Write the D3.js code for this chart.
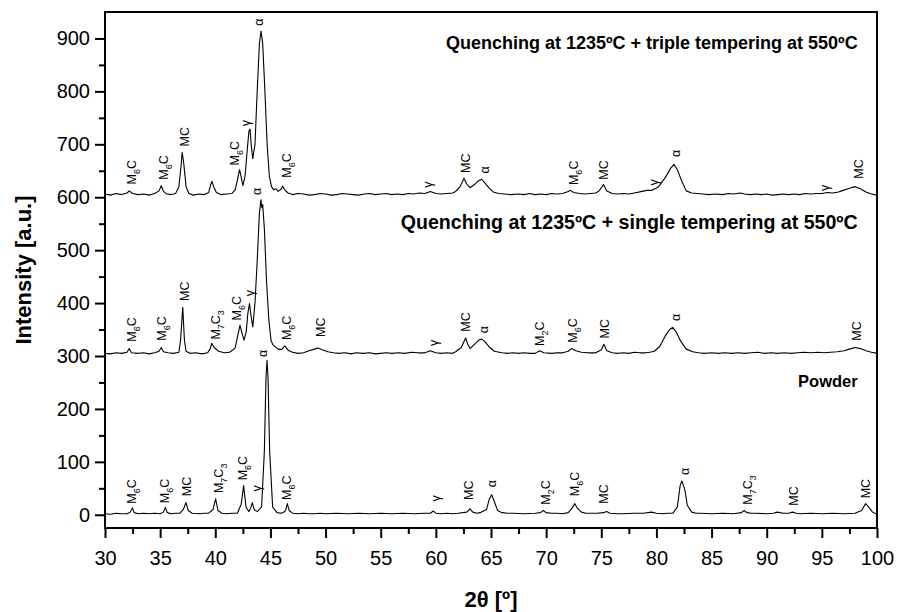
<!DOCTYPE html>
<html>
<head>
<meta charset="utf-8">
<script src="https://cdn.jsdelivr.net/npm/d3@7"></script>
<style>
  body { margin: 0; background: #fff; }
  svg { font-family: "Liberation Sans", Arial, sans-serif; }
  .scan { fill: none; stroke: #000; stroke-width: 1.1; stroke-linejoin: round; }
  .axis path, .axis line { stroke: #000; stroke-width: 2; }
  .axis text { font-size: 20px; fill: #000; }
  .title { font-weight: bold; fill: #000; }
</style>
</head>
<body>
<svg class="main"></svg>
<script>
// 2theta [deg], intensity [a.u.]
var tripleScan = [
  [30.0,606],[30.5,604],[31.0,607],[31.5,605],[32.0,608],[32.2,612],[32.5,607],[33.0,605],[33.5,606],[34.0,604],
  [34.5,607],[34.9,612],[35.1,622],[35.3,611],[35.6,606],[36.0,605],[36.4,607],[36.7,620],[36.9,660],[37.0,685],
  [37.15,662],[37.35,620],[37.6,607],[38.0,604],[38.5,606],[39.0,605],[39.4,609],[39.6,625],[39.7,630],[39.85,620],
  [40.1,609],[40.5,605],[41.0,606],[41.5,607],[41.8,614],[42.0,632],[42.2,652],[42.35,638],[42.5,622],[42.7,640],
  [42.9,690],[43.05,725],[43.15,729],[43.25,700],[43.4,673],[43.6,700],[43.8,800],[44.0,890],[44.15,914],[44.3,890],
  [44.5,800],[44.7,700],[44.9,640],[45.1,620],[45.3,614],[45.5,616],[45.7,611],[46.0,616],[46.1,621],[46.3,614],
  [46.6,608],[47.0,605],[47.5,607],[48.0,606],[48.5,604],[49.0,605],[49.5,607],[50.0,606],[50.5,604],[51.0,605],
  [51.5,607],[52.0,606],[52.5,605],[53.0,604],[53.5,606],[54.0,607],[54.5,605],[55.0,606],[55.5,607],[56.0,605],
  [56.5,606],[57.0,605],[57.5,607],[58.0,606],[58.5,608],[59.0,607],[59.5,611],[60.0,607],[60.5,606],[61.0,607],
  [61.5,608],[61.8,611],[62.2,620],[62.55,636],[62.8,625],[63.1,618],[63.5,624],[63.8,630],[64.15,634],[64.4,628],
  [64.8,618],[65.2,610],[65.7,607],[66.2,606],[66.8,605],[67.5,606],[68.0,605],[68.5,607],[69.0,605],[69.5,606],
  [70.0,605],[70.5,607],[71.0,606],[71.5,607],[72.0,611],[72.2,613],[72.5,609],[73.0,607],[73.5,606],[74.0,607],
  [74.5,608],[74.8,612],[75.2,624],[75.5,612],[76.0,607],[76.5,606],[77.0,607],[77.5,606],[78.0,608],[78.7,611],
  [79.1,613],[79.6,613],[80.2,620],[80.8,637],[81.3,655],[81.6,662],[81.9,652],[82.3,630],[82.7,612],[83.2,608],
  [83.7,607],[84.2,606],[84.8,605],[85.3,606],[86.0,605],[86.5,607],[87.0,606],[87.6,608],[88.0,606],[88.5,605],
  [89.0,606],[89.5,605],[90.0,606],[90.5,604],[91.0,605],[91.5,606],[92.0,605],[92.5,606],[93.0,605],[93.5,607],
  [94.0,606],[94.5,607],[95.0,607],[95.5,609],[96.0,608],[96.5,610],[96.8,612],[97.5,617],[98.0,620],[98.5,616],
  [99.0,610],[99.5,606],[100.0,604]
];
var singleScan = [
  [30.0,305],[30.5,304],[31.0,306],[31.5,305],[32.0,307],[32.2,314],[32.4,306],[33.0,305],[33.5,306],[34.0,304],
  [34.5,306],[34.9,309],[35.1,316],[35.3,308],[35.7,306],[36.2,305],[36.7,307],[36.85,330],[37.05,392],[37.2,330],
  [37.35,309],[37.7,305],[38.2,306],[38.8,304],[39.3,306],[39.55,314],[39.67,324],[39.9,316],[40.3,309],[40.8,306],
  [41.3,307],[41.8,315],[42.05,340],[42.24,358],[42.4,345],[42.6,330],[42.8,345],[42.95,380],[43.1,399],[43.25,375],
  [43.4,355],[43.6,400],[43.8,480],[44.0,570],[44.14,595],[44.22,580],[44.3,586],[44.45,540],[44.65,440],[44.85,370],
  [45.05,330],[45.2,322],[45.4,318],[45.7,313],[46.0,312],[46.3,319],[46.6,311],[47.0,307],[47.5,305],[48.0,306],
  [48.5,310],[49.0,313],[49.3,315],[49.7,312],[50.2,308],[50.7,306],[51.2,305],[51.8,306],[52.3,304],[52.8,306],
  [53.4,305],[54.0,306],[54.5,304],[55.0,305],[55.5,306],[56.0,305],[56.6,306],[57.2,305],[57.8,307],[58.4,306],
  [59.0,306],[59.5,310],[60.0,306],[60.5,305],[61.0,306],[61.5,305],[61.8,308],[62.3,316],[62.7,334],[62.9,322],
  [63.1,314],[63.5,322],[63.9,330],[64.15,332],[64.4,328],[64.8,318],[65.3,309],[66.0,306],[66.5,305],[67.0,306],
  [67.5,305],[68.0,306],[68.5,305],[69.0,305],[69.4,310],[69.8,306],[70.5,305],[71.0,306],[71.5,306],[72.0,309],
  [72.3,314],[72.7,310],[73.2,307],[73.8,306],[74.5,306],[75.0,312],[75.24,322],[75.5,310],[76.0,306],[76.5,305],
  [77.0,306],[77.5,305],[78.0,307],[78.5,306],[79.0,306],[79.4,307],[79.8,309],[80.3,318],[80.8,338],[81.2,350],
  [81.47,354],[81.8,345],[82.2,328],[82.7,313],[83.3,308],[83.8,306],[84.4,305],[85.0,306],[85.6,305],[86.2,306],
  [86.8,305],[87.4,306],[88.0,305],[88.6,306],[89.2,307],[89.8,305],[90.4,306],[91.0,305],[91.6,306],[92.2,305],
  [92.8,306],[93.4,307],[94.0,306],[94.6,307],[95.2,306],[95.8,307],[96.4,308],[97.0,310],[97.5,313],[98.0,316],
  [98.5,314],[99.0,310],[99.5,307],[100.0,305]
];
var powderScan = [
  [30.0,2],[30.5,1],[31.0,3],[31.5,2],[32.0,2],[32.3,5],[32.48,13],[32.65,4],[33.0,2],[33.5,3],
  [34.0,2],[34.5,3],[35.0,2],[35.3,5],[35.47,14],[35.65,4],[36.0,2],[36.4,3],[36.8,3],[37.1,10],
  [37.34,23],[37.55,8],[37.9,3],[38.5,2],[39.0,3],[39.4,3],[39.8,10],[40.03,30],[40.25,8],[40.6,3],
  [41.0,2],[41.5,3],[42.0,3],[42.35,20],[42.57,55],[42.78,15],[43.05,6],[43.2,12],[43.36,23],[43.52,10],
  [43.8,6],[44.2,15],[44.45,120],[44.6,260],[44.69,292],[44.78,260],[44.93,120],[45.2,15],[45.6,4],[46.0,3],
  [46.3,6],[46.4,10],[46.53,21],[46.7,8],[47.0,3],[47.5,2],[48.0,3],[48.5,2],[49.0,2],[49.5,3],
  [50.0,2],[51.0,3],[52.0,2],[53.0,3],[54.0,2],[55.0,3],[56.0,2],[57.0,3],[58.0,2],[59.0,3],
  [59.5,3],[59.77,7],[60.0,3],[60.5,2],[61.0,3],[61.5,2],[62.0,3],[62.8,5],[63.09,11],[63.35,5],
  [63.7,3],[64.0,4],[64.6,10],[64.85,30],[65.06,38],[65.3,25],[65.6,8],[66.0,4],[66.5,3],[67.0,3],
  [68.0,2],[69.0,3],[69.5,4],[69.74,8],[70.0,4],[70.5,3],[71.0,3],[71.5,2],[72.0,4],[72.4,14],
  [72.6,21],[72.85,12],[73.2,5],[73.6,3],[74.0,3],[74.6,3],[75.2,4],[75.48,6],[75.8,3],[76.5,2],
  [77.0,2],[78.0,3],[78.8,3],[79.56,5],[80.0,3],[80.5,2],[81.0,3],[81.5,3],[81.9,15],[82.15,55],
  [82.3,64],[82.45,55],[82.58,47],[82.8,18],[83.2,5],[83.6,3],[84.0,3],[85.0,2],[86.0,3],[87.0,2],
  [87.7,4],[87.96,8],[88.2,4],[88.6,3],[89.0,3],[90.0,2],[90.6,3],[90.95,5],[91.5,3],[92.0,3],
  [92.35,5],[92.7,3],[93.0,2],[94.0,3],[95.0,2],[96.0,3],[97.0,2],[98.0,3],[98.6,8],[98.97,21],
  [99.15,17],[99.3,13],[99.6,5],[100.0,1]
];

// peak labels: [2theta, intensity at foot of label, phase]
var tripleLabels = [
  [32.4,624,"M6C"],[35.3,633,"M6C"],[37.2,696,"MC"],[41.7,660,"M6C"],[42.75,734,"γ"],[43.9,924,"α"],
  [46.45,637,"M6C"],[59.25,618,"γ"],[62.7,646,"MC"],[64.4,645,"α"],[72.5,623,"M6C"],[75.2,633,"MC"],
  [79.7,622,"γ"],[81.75,676,"α"],[95.2,612,"γ"],[98.3,635,"MC"]
];
var singleLabels = [
  [32.4,327,"M6C"],[35.1,329,"M6C"],[37.25,404,"MC"],[40.0,331,"M7C3"],[41.9,367,"M6C"],[43.1,413,"γ"],
  [43.75,604,"α"],[46.45,330,"M6C"],[49.55,336,"MC"],[59.75,319,"γ"],[62.65,346,"MC"],[64.3,343,"α"],
  [69.4,319,"M2C"],[72.4,325,"M6C"],[75.25,333,"MC"],[81.7,366,"α"],[98.15,329,"MC"]
];
var powderLabels = [
  [32.4,21,"M6C"],[35.4,22,"M6C"],[37.35,35,"MC"],[40.3,41,"M7C3"],[42.5,65,"M6C"],[43.75,44,"γ"],
  [44.3,298,"α"],[46.5,28,"M6C"],[60.0,25,"γ"],[63.0,28,"MC"],[65.06,52,"α"],[69.95,19,"M2C"],
  [72.6,35,"M6C"],[75.24,21,"MC"],[82.5,75,"α"],[88.3,19,"M7C3"],[92.4,17,"MC"],[98.97,31,"MC"]
];

var xTicks = [30,35,40,45,50,55,60,65,70,75,80,85,90,95,100];
var yTicks = [0,100,200,300,400,500,600,700,800,900];
var titles = ["Quenching at 1235ºC + triple tempering at 550ºC",
              "Quenching at 1235ºC + single tempering at 550ºC",
              "Powder"];

var W = 897, H = 612;
var margin = {left: 105, right: 20, top: 12, bottom: 84};
var pw = W - margin.left - margin.right;
var ph = H - margin.top - margin.bottom;

var svg = d3.select("svg.main").attr("width", W).attr("height", H);
var g = svg.append("g").attr("transform", "translate(" + margin.left + "," + margin.top + ")");

var x = d3.scaleLinear().domain([30, 100]).range([0, pw]);
var y = d3.scaleLinear().domain([-25, 950]).range([ph, 0]);

// minor ticks
var xMinor = d3.range(32.5, 100, 5);
var yMinor = d3.range(50, 950, 100);

g.append("g").attr("class", "axis")
  .attr("transform", "translate(0," + ph + ")")
  .call(d3.axisBottom(x).tickValues(xMinor).tickSize(6).tickFormat(""))
  .select(".domain").remove();
g.append("g").attr("class", "axis")
  .call(d3.axisLeft(y).tickValues(yMinor).tickSize(6).tickFormat(""))
  .select(".domain").remove();

var xa = g.append("g").attr("class", "axis")
  .attr("transform", "translate(0," + ph + ")")
  .call(d3.axisBottom(x).tickValues(xTicks).tickSize(10).tickPadding(9).tickSizeOuter(0));
xa.select(".domain").remove();
xa.selectAll("text").attr("dy", "0.9em");

var ya = g.append("g").attr("class", "axis")
  .call(d3.axisLeft(y).tickValues(yTicks).tickSize(10).tickPadding(5).tickSizeOuter(0));
ya.select(".domain").remove();

// frame
g.append("rect").attr("width", pw).attr("height", ph)
  .attr("fill", "none").attr("stroke", "#000").attr("stroke-width", 2);

var line = d3.line().x(d => x(d[0])).y(d => y(d[1]));
[tripleScan, singleScan, powderScan].forEach(function (s) {
  g.append("path").attr("class", "scan").attr("d", line(s));
});

// vertical phase labels, digits as subscripts
function addLabel(d) {
  var t = g.append("text")
    .attr("transform", "translate(" + (x(d[0]) + 4.5) + "," + y(d[1]) + ") rotate(-90)")
    .style("font-size", "12.5px");
  var parts = d[2].match(/[^0-9]+|[0-9]/g);
  var sub = false;
  parts.forEach(function (p) {
    var isDigit = /[0-9]/.test(p);
    var ts = t.append("tspan").text(p);
    if (isDigit) { ts.attr("dy", sub ? 0 : 4).style("font-size", "9px"); sub = true; }
    else if (sub) { ts.attr("dy", -4); sub = false; }
  });
}
tripleLabels.forEach(addLabel);
singleLabels.forEach(addLabel);
powderLabels.forEach(addLabel);

// curve titles
g.append("text").attr("class", "title").attr("text-anchor", "end").style("font-size", "18px")
  .attr("x", x(98.25)).attr("y", y(881)).text(titles[0]);
g.append("text").attr("class", "title").attr("text-anchor", "end").style("font-size", "19.6px")
  .attr("x", x(98.25)).attr("y", y(540)).text(titles[1]);
g.append("text").attr("class", "title").attr("text-anchor", "end").style("font-size", "16.5px")
  .attr("x", x(98.25)).attr("y", y(242)).text(titles[2]);

// axis titles
svg.append("text")
  .attr("x", margin.left + pw / 2).attr("y", 607)
  .attr("text-anchor", "middle")
  .style("font-size", "22px").style("font-weight", "bold")
  .text("2θ [º]");
svg.append("text")
  .attr("transform", "translate(31," + (margin.top + ph / 2) + ") rotate(-90)")
  .attr("text-anchor", "middle")
  .style("font-size", "22px").style("font-weight", "bold")
  .text("Intensity [a.u.]");
</script>
</body>
</html>
